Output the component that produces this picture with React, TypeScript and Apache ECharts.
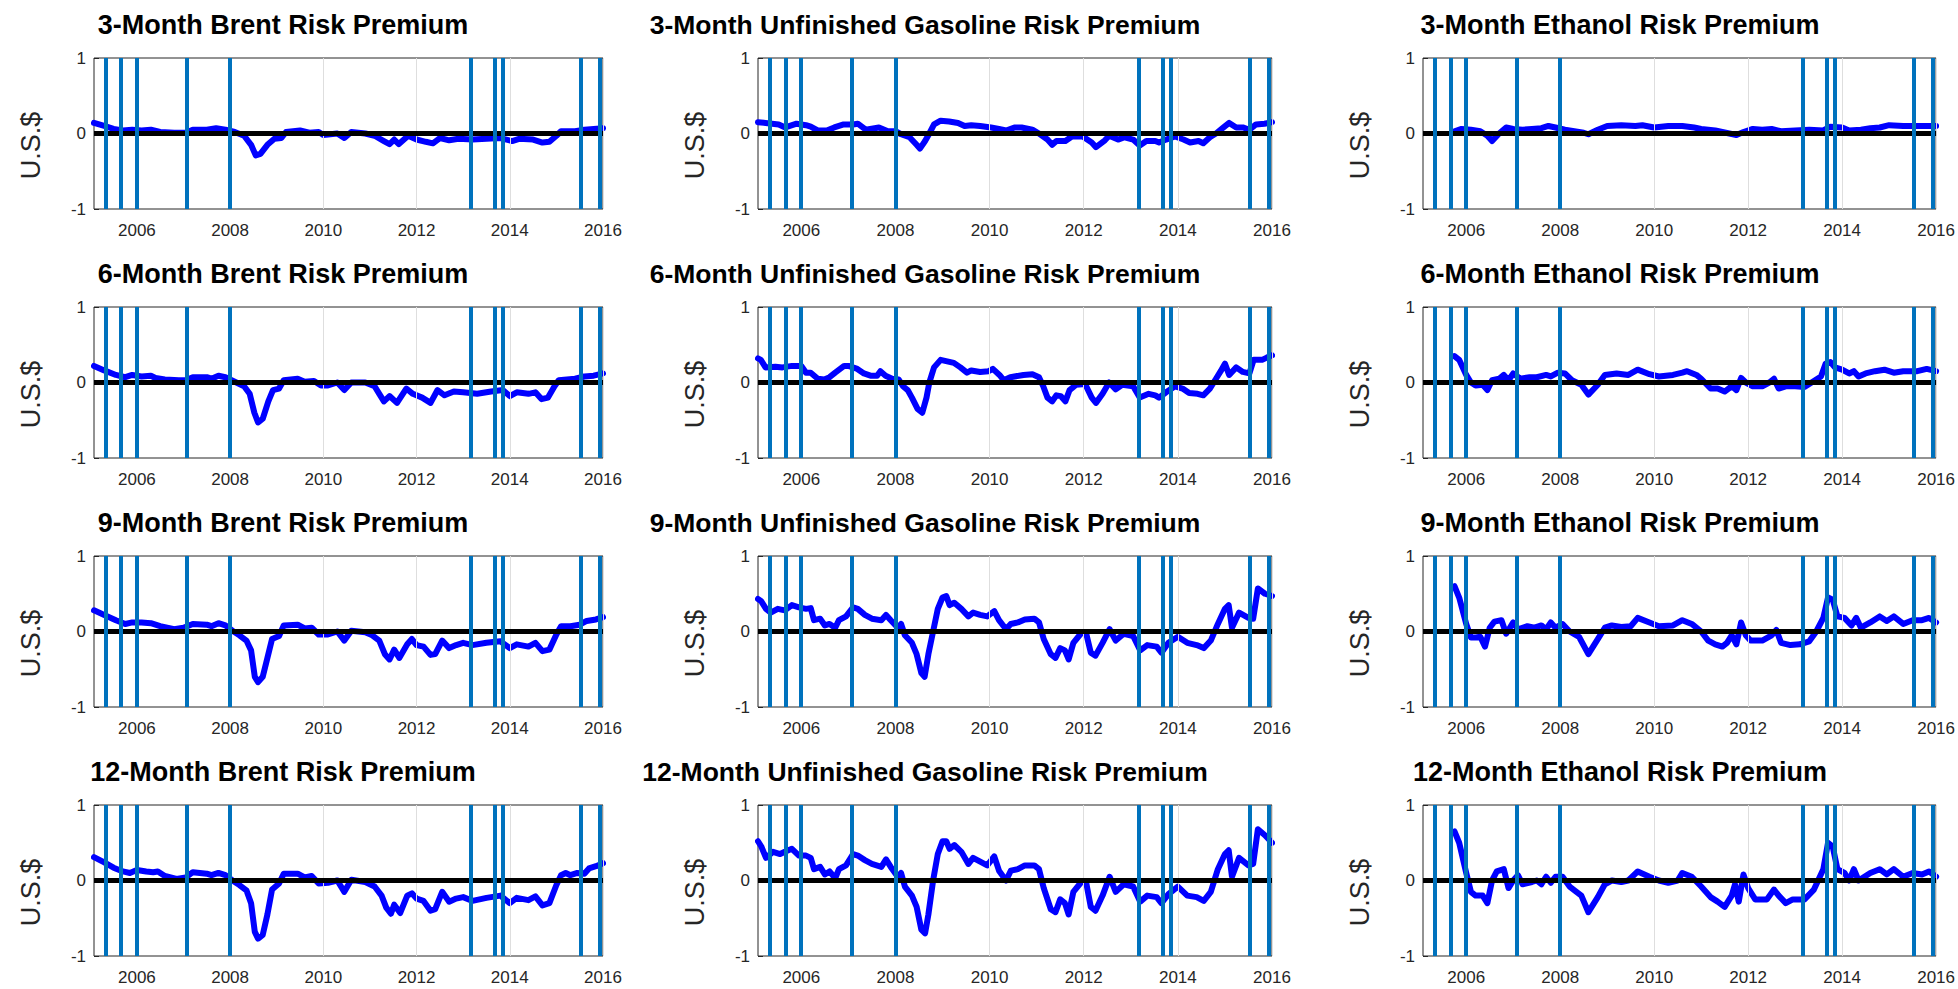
import React, { useEffect, useRef } from "react";
import * as echarts from "echarts";

const X_MIN = 2005.08;
const X_MAX = 2016.0;
const xTickValues = [2006, 2008, 2010, 2012, 2014, 2016];
const eventDates = [2005.33, 2005.66, 2005.99, 2007.08, 2008.0, 2013.17, 2013.67, 2013.85, 2015.52, 2015.93];
const horizons = ["3-Month", "6-Month", "9-Month", "12-Month"];
const commodities = ["Brent", "Unfinished Gasoline", "Ethanol"];
const yLabel = "U.S.$";

const brent3 = [[2005.08,0.14],[2005.3,0.1],[2005.5,0.06],[2005.7,0.04],[2005.9,0.05],[2006.1,0.04],[2006.3,0.05],[2006.5,0.02],[2006.8,0.01],[2007.05,0.01],[2007.2,0.05],[2007.5,0.05],[2007.7,0.07],[2007.9,0.05],[2008.1,0.02],[2008.3,-0.03],[2008.45,-0.15],[2008.55,-0.29],[2008.65,-0.27],[2008.8,-0.15],[2008.95,-0.07],[2009.1,-0.06],[2009.2,0.02],[2009.5,0.04],[2009.7,0.01],[2009.9,0.02],[2010.0,-0.02],[2010.3,0.0],[2010.45,-0.06],[2010.6,0.02],[2010.9,0.0],[2011.1,-0.03],[2011.3,-0.1],[2011.42,-0.14],[2011.52,-0.08],[2011.62,-0.14],[2011.82,-0.03],[2012.0,-0.08],[2012.2,-0.11],[2012.35,-0.13],[2012.5,-0.06],[2012.7,-0.09],[2012.9,-0.07],[2013.2,-0.08],[2013.5,-0.07],[2013.8,-0.06],[2014.05,-0.1],[2014.2,-0.07],[2014.5,-0.08],[2014.7,-0.12],[2014.85,-0.11],[2015.0,-0.03],[2015.1,0.03],[2015.4,0.03],[2015.6,0.05],[2015.8,0.06],[2016.0,0.07]];
const brent6 = [[2005.08,0.22],[2005.3,0.16],[2005.55,0.1],[2005.75,0.07],[2005.9,0.1],[2006.1,0.08],[2006.3,0.09],[2006.4,0.06],[2006.6,0.04],[2006.9,0.03],[2007.05,0.03],[2007.2,0.07],[2007.5,0.07],[2007.6,0.05],[2007.75,0.09],[2007.9,0.07],[2008.1,0.01],[2008.3,-0.05],[2008.42,-0.15],[2008.52,-0.4],[2008.6,-0.53],[2008.7,-0.48],[2008.82,-0.25],[2008.92,-0.1],[2009.05,-0.08],[2009.15,0.03],[2009.45,0.05],[2009.6,0.01],[2009.8,0.02],[2009.95,-0.04],[2010.1,-0.04],[2010.3,0.0],[2010.45,-0.1],[2010.6,0.0],[2010.9,0.0],[2011.1,-0.05],[2011.2,-0.15],[2011.3,-0.25],[2011.42,-0.18],[2011.58,-0.27],[2011.78,-0.08],[2011.92,-0.15],[2012.12,-0.2],[2012.3,-0.27],[2012.45,-0.1],[2012.6,-0.17],[2012.8,-0.12],[2013.0,-0.13],[2013.3,-0.15],[2013.6,-0.12],[2013.85,-0.1],[2014.0,-0.18],[2014.15,-0.13],[2014.4,-0.15],[2014.55,-0.13],[2014.68,-0.22],[2014.82,-0.2],[2014.96,-0.05],[2015.05,0.03],[2015.4,0.05],[2015.6,0.08],[2015.8,0.09],[2016.0,0.12]];
const brent9 = [[2005.08,0.28],[2005.3,0.22],[2005.55,0.15],[2005.75,0.1],[2005.9,0.12],[2006.1,0.12],[2006.3,0.11],[2006.5,0.07],[2006.8,0.03],[2007.0,0.05],[2007.2,0.1],[2007.5,0.09],[2007.6,0.07],[2007.75,0.11],[2007.9,0.08],[2008.05,0.01],[2008.2,-0.05],[2008.35,-0.12],[2008.45,-0.25],[2008.53,-0.6],[2008.6,-0.67],[2008.7,-0.6],[2008.8,-0.35],[2008.9,-0.1],[2009.05,-0.06],[2009.15,0.08],[2009.45,0.09],[2009.6,0.04],[2009.75,0.05],[2009.9,-0.04],[2010.1,-0.04],[2010.3,0.0],[2010.45,-0.12],[2010.6,0.01],[2010.9,-0.01],[2011.05,-0.05],[2011.2,-0.12],[2011.32,-0.3],[2011.42,-0.37],[2011.52,-0.24],[2011.63,-0.35],[2011.8,-0.17],[2011.9,-0.1],[2012.0,-0.18],[2012.15,-0.2],[2012.3,-0.31],[2012.4,-0.3],[2012.55,-0.12],[2012.7,-0.22],[2012.85,-0.18],[2013.0,-0.15],[2013.2,-0.18],[2013.5,-0.15],[2013.8,-0.13],[2014.0,-0.22],[2014.15,-0.17],[2014.4,-0.2],[2014.55,-0.15],[2014.7,-0.26],[2014.85,-0.24],[2015.0,-0.04],[2015.1,0.07],[2015.3,0.07],[2015.5,0.09],[2015.65,0.14],[2015.85,0.16],[2016.0,0.19]];
const brent12 = [[2005.08,0.31],[2005.3,0.24],[2005.5,0.17],[2005.7,0.12],[2005.85,0.1],[2006.0,0.14],[2006.2,0.12],[2006.35,0.11],[2006.45,0.12],[2006.6,0.06],[2006.85,0.02],[2007.05,0.04],[2007.2,0.11],[2007.5,0.09],[2007.6,0.07],[2007.75,0.1],[2007.9,0.07],[2008.05,0.0],[2008.2,-0.06],[2008.35,-0.13],[2008.45,-0.3],[2008.53,-0.68],[2008.6,-0.77],[2008.7,-0.72],[2008.8,-0.45],[2008.9,-0.12],[2009.05,-0.04],[2009.15,0.09],[2009.45,0.09],[2009.6,0.04],[2009.75,0.06],[2009.9,-0.04],[2010.1,-0.03],[2010.3,0.0],[2010.45,-0.15],[2010.6,0.01],[2010.9,-0.02],[2011.1,-0.08],[2011.25,-0.2],[2011.35,-0.36],[2011.45,-0.44],[2011.52,-0.32],[2011.65,-0.43],[2011.8,-0.2],[2011.9,-0.17],[2012.0,-0.24],[2012.15,-0.27],[2012.3,-0.4],[2012.4,-0.38],[2012.55,-0.15],[2012.7,-0.28],[2012.85,-0.24],[2013.0,-0.22],[2013.2,-0.27],[2013.5,-0.23],[2013.8,-0.2],[2014.0,-0.3],[2014.15,-0.23],[2014.4,-0.26],[2014.55,-0.21],[2014.7,-0.33],[2014.85,-0.3],[2015.0,-0.06],[2015.1,0.07],[2015.2,0.1],[2015.3,0.07],[2015.45,0.1],[2015.6,0.09],[2015.7,0.16],[2015.85,0.19],[2016.0,0.23]];

const gas3 = [[2005.08,0.15],[2005.24,0.14],[2005.52,0.12],[2005.66,0.08],[2005.9,0.13],[2006.1,0.11],[2006.2,0.09],[2006.35,0.04],[2006.54,0.04],[2006.7,0.08],[2006.9,0.12],[2007.1,0.12],[2007.2,0.13],[2007.37,0.05],[2007.65,0.08],[2007.84,0.03],[2008.0,0.03],[2008.12,-0.01],[2008.3,-0.05],[2008.45,-0.15],[2008.52,-0.2],[2008.63,-0.1],[2008.72,0.0],[2008.82,0.12],[2008.96,0.17],[2009.14,0.16],[2009.33,0.14],[2009.47,0.1],[2009.61,0.11],[2009.8,0.1],[2010.03,0.08],[2010.2,0.06],[2010.35,0.04],[2010.54,0.08],[2010.68,0.08],[2010.91,0.05],[2011.05,0.0],[2011.23,-0.08],[2011.33,-0.15],[2011.42,-0.1],[2011.61,-0.1],[2011.75,-0.04],[2011.98,-0.04],[2012.17,-0.12],[2012.26,-0.18],[2012.45,-0.09],[2012.54,-0.03],[2012.73,-0.08],[2012.87,-0.05],[2013.05,-0.08],[2013.19,-0.16],[2013.33,-0.1],[2013.52,-0.1],[2013.6,-0.12],[2013.75,-0.08],[2013.94,-0.04],[2014.12,-0.08],[2014.26,-0.12],[2014.44,-0.1],[2014.54,-0.13],[2014.68,-0.05],[2014.81,0.0],[2014.95,0.07],[2015.09,0.14],[2015.24,0.08],[2015.38,0.08],[2015.52,0.05],[2015.66,0.12],[2015.84,0.13],[2016.0,0.15]];
const gas6 = [[2005.08,0.32],[2005.14,0.3],[2005.24,0.2],[2005.45,0.21],[2005.6,0.2],[2005.8,0.22],[2006.0,0.22],[2006.1,0.13],[2006.2,0.13],[2006.35,0.05],[2006.49,0.04],[2006.6,0.07],[2006.72,0.13],[2006.91,0.22],[2007.0,0.22],[2007.19,0.18],[2007.33,0.12],[2007.47,0.09],[2007.61,0.09],[2007.68,0.15],[2007.79,0.09],[2007.93,0.05],[2008.07,0.04],[2008.16,-0.05],[2008.26,-0.1],[2008.35,-0.2],[2008.47,-0.35],[2008.57,-0.4],[2008.66,-0.2],[2008.72,0.0],[2008.82,0.2],[2008.96,0.3],[2009.1,0.28],[2009.24,0.26],[2009.38,0.2],[2009.52,0.13],[2009.61,0.16],[2009.8,0.14],[2009.98,0.15],[2010.07,0.18],[2010.21,0.1],[2010.3,0.03],[2010.44,0.07],[2010.72,0.1],[2010.91,0.11],[2011.05,0.07],[2011.14,-0.05],[2011.23,-0.2],[2011.33,-0.25],[2011.42,-0.17],[2011.51,-0.18],[2011.61,-0.25],[2011.7,-0.1],[2011.84,-0.03],[2012.03,-0.02],[2012.17,-0.2],[2012.26,-0.27],[2012.4,-0.15],[2012.54,0.0],[2012.68,-0.09],[2012.82,-0.03],[2013.05,-0.05],[2013.19,-0.2],[2013.38,-0.15],[2013.52,-0.17],[2013.6,-0.2],[2013.75,-0.13],[2013.94,-0.05],[2014.1,-0.08],[2014.24,-0.14],[2014.42,-0.15],[2014.54,-0.17],[2014.68,-0.08],[2014.81,0.05],[2014.91,0.15],[2015.0,0.25],[2015.09,0.1],[2015.24,0.2],[2015.38,0.14],[2015.52,0.12],[2015.61,0.3],[2015.79,0.3],[2015.89,0.33],[2016.0,0.36]];
const gas9 = [[2005.08,0.43],[2005.15,0.4],[2005.25,0.3],[2005.35,0.25],[2005.5,0.3],[2005.65,0.28],[2005.8,0.35],[2005.95,0.32],[2006.1,0.3],[2006.2,0.31],[2006.27,0.15],[2006.4,0.17],[2006.5,0.08],[2006.6,0.1],[2006.72,0.05],[2006.8,0.15],[2006.95,0.2],[2007.1,0.32],[2007.2,0.3],[2007.35,0.22],[2007.5,0.17],[2007.7,0.15],[2007.8,0.22],[2007.9,0.15],[2008.05,0.05],[2008.12,0.1],[2008.2,-0.05],[2008.35,-0.15],[2008.45,-0.3],[2008.55,-0.55],[2008.62,-0.6],[2008.7,-0.3],[2008.8,0.0],[2008.9,0.3],[2009.0,0.45],[2009.08,0.47],[2009.15,0.35],[2009.25,0.38],[2009.4,0.3],[2009.55,0.2],[2009.65,0.25],[2009.8,0.22],[2009.95,0.2],[2010.1,0.27],[2010.2,0.15],[2010.35,0.03],[2010.45,0.1],[2010.6,0.12],[2010.75,0.16],[2010.95,0.17],[2011.05,0.12],[2011.15,-0.1],[2011.3,-0.3],[2011.4,-0.35],[2011.5,-0.22],[2011.6,-0.25],[2011.68,-0.37],[2011.78,-0.15],[2011.95,-0.02],[2012.05,-0.02],[2012.15,-0.28],[2012.25,-0.32],[2012.4,-0.15],[2012.55,0.03],[2012.68,-0.12],[2012.85,-0.03],[2013.05,-0.06],[2013.2,-0.25],[2013.35,-0.18],[2013.55,-0.2],[2013.65,-0.28],[2013.8,-0.15],[2014.0,-0.07],[2014.2,-0.15],[2014.4,-0.18],[2014.55,-0.22],[2014.7,-0.12],[2014.85,0.1],[2015.0,0.3],[2015.08,0.35],[2015.15,0.05],[2015.3,0.25],[2015.5,0.18],[2015.6,0.17],[2015.7,0.57],[2015.85,0.5],[2016.0,0.47]];
const gas12 = [[2005.08,0.52],[2005.15,0.45],[2005.25,0.3],[2005.4,0.38],[2005.55,0.35],[2005.65,0.38],[2005.8,0.42],[2005.95,0.33],[2006.1,0.33],[2006.2,0.3],[2006.27,0.15],[2006.4,0.18],[2006.5,0.08],[2006.6,0.12],[2006.72,0.03],[2006.8,0.15],[2006.95,0.2],[2007.1,0.35],[2007.2,0.33],[2007.35,0.27],[2007.5,0.22],[2007.7,0.18],[2007.8,0.28],[2007.9,0.18],[2008.05,0.05],[2008.12,0.1],[2008.2,-0.08],[2008.35,-0.2],[2008.45,-0.35],[2008.55,-0.65],[2008.63,-0.7],[2008.7,-0.45],[2008.8,0.0],[2008.9,0.35],[2009.0,0.52],[2009.08,0.52],[2009.15,0.42],[2009.25,0.47],[2009.4,0.38],[2009.55,0.22],[2009.65,0.3],[2009.8,0.25],[2009.95,0.2],[2010.1,0.32],[2010.2,0.13],[2010.35,0.0],[2010.45,0.13],[2010.6,0.15],[2010.75,0.2],[2010.95,0.2],[2011.05,0.15],[2011.15,-0.1],[2011.3,-0.38],[2011.4,-0.42],[2011.5,-0.25],[2011.6,-0.3],[2011.68,-0.45],[2011.78,-0.15],[2011.95,-0.02],[2012.05,-0.02],[2012.15,-0.35],[2012.25,-0.4],[2012.4,-0.2],[2012.55,0.05],[2012.68,-0.15],[2012.85,-0.05],[2013.05,-0.08],[2013.2,-0.28],[2013.35,-0.2],[2013.55,-0.22],[2013.65,-0.3],[2013.8,-0.18],[2014.0,-0.08],[2014.2,-0.2],[2014.4,-0.22],[2014.55,-0.27],[2014.7,-0.15],[2014.85,0.15],[2015.0,0.35],[2015.08,0.4],[2015.15,0.05],[2015.3,0.3],[2015.5,0.2],[2015.6,0.22],[2015.7,0.68],[2015.85,0.6],[2016.0,0.5]];

const eth3 = [[2005.75,0.03],[2005.9,0.06],[2006.1,0.05],[2006.3,0.03],[2006.45,-0.03],[2006.55,-0.1],[2006.7,0.0],[2006.85,0.08],[2007.0,0.06],[2007.2,0.05],[2007.4,0.06],[2007.6,0.07],[2007.75,0.1],[2007.9,0.08],[2008.1,0.05],[2008.3,0.03],[2008.5,0.01],[2008.6,-0.01],[2008.8,0.05],[2009.0,0.1],[2009.3,0.11],[2009.6,0.1],[2009.75,0.11],[2010.0,0.08],[2010.3,0.1],[2010.6,0.1],[2010.85,0.08],[2011.0,0.06],[2011.3,0.04],[2011.6,0.0],[2011.75,-0.02],[2011.9,0.02],[2012.1,0.06],[2012.3,0.05],[2012.5,0.06],[2012.7,0.03],[2013.0,0.04],[2013.3,0.05],[2013.6,0.04],[2013.75,0.09],[2014.0,0.08],[2014.15,0.04],[2014.4,0.05],[2014.6,0.07],[2014.8,0.08],[2015.0,0.11],[2015.3,0.1],[2015.6,0.1],[2015.8,0.1],[2016.0,0.1]];
const eth6 = [[2005.75,0.35],[2005.85,0.3],[2006.0,0.1],[2006.1,0.0],[2006.2,-0.04],[2006.35,-0.03],[2006.45,-0.1],[2006.55,0.03],[2006.7,0.05],[2006.8,0.1],[2006.9,0.03],[2007.0,0.12],[2007.15,0.05],[2007.35,0.07],[2007.5,0.07],[2007.7,0.1],[2007.8,0.08],[2007.95,0.13],[2008.1,0.12],[2008.25,0.03],[2008.45,-0.03],[2008.6,-0.16],[2008.8,-0.03],[2008.95,0.1],[2009.2,0.12],[2009.45,0.1],[2009.65,0.17],[2009.9,0.11],[2010.1,0.08],[2010.4,0.1],[2010.6,0.13],[2010.7,0.15],[2010.9,0.1],[2011.0,0.05],[2011.2,-0.08],[2011.35,-0.08],[2011.5,-0.12],[2011.65,-0.05],[2011.75,-0.1],[2011.85,0.06],[2011.95,0.0],[2012.1,-0.05],[2012.3,-0.05],[2012.45,0.0],[2012.55,0.05],[2012.65,-0.08],[2012.8,-0.05],[2013.0,-0.05],[2013.2,-0.06],[2013.35,0.0],[2013.55,0.08],[2013.65,0.25],[2013.75,0.27],[2013.85,0.2],[2014.0,0.17],[2014.15,0.12],[2014.25,0.15],[2014.35,0.08],[2014.5,0.12],[2014.7,0.15],[2014.9,0.17],[2015.1,0.13],[2015.3,0.15],[2015.6,0.15],[2015.8,0.18],[2016.0,0.15]];
const eth9 = [[2005.75,0.6],[2005.85,0.45],[2006.0,0.1],[2006.1,-0.08],[2006.2,-0.08],[2006.3,-0.07],[2006.4,-0.2],[2006.5,0.05],[2006.6,0.13],[2006.75,0.15],[2006.85,-0.03],[2007.0,0.12],[2007.1,0.03],[2007.3,0.07],[2007.45,0.05],[2007.6,0.08],[2007.7,0.03],[2007.8,0.12],[2007.9,0.05],[2008.05,0.1],[2008.2,0.0],[2008.4,-0.07],[2008.6,-0.3],[2008.8,-0.1],[2008.95,0.05],[2009.1,0.08],[2009.3,0.06],[2009.5,0.07],[2009.65,0.18],[2009.9,0.12],[2010.1,0.07],[2010.4,0.08],[2010.6,0.15],[2010.8,0.1],[2011.0,0.0],[2011.15,-0.12],[2011.3,-0.17],[2011.45,-0.2],[2011.55,-0.15],[2011.65,-0.05],[2011.75,-0.17],[2011.85,0.12],[2011.95,-0.05],[2012.05,-0.12],[2012.3,-0.12],[2012.5,-0.05],[2012.6,0.02],[2012.7,-0.15],[2012.9,-0.18],[2013.1,-0.17],[2013.3,-0.13],[2013.45,0.0],[2013.6,0.18],[2013.7,0.45],[2013.8,0.42],[2013.9,0.2],[2014.05,0.18],[2014.2,0.08],[2014.3,0.18],[2014.4,0.05],[2014.6,0.12],[2014.8,0.2],[2014.95,0.14],[2015.1,0.2],[2015.3,0.1],[2015.5,0.15],[2015.7,0.15],[2015.85,0.18],[2016.0,0.12]];
const eth12 = [[2005.75,0.65],[2005.85,0.5],[2006.0,0.1],[2006.1,-0.15],[2006.2,-0.2],[2006.35,-0.2],[2006.45,-0.3],[2006.55,0.0],[2006.65,0.12],[2006.8,0.15],[2006.9,-0.1],[2007.0,0.0],[2007.1,0.07],[2007.2,-0.05],[2007.4,-0.02],[2007.5,0.0],[2007.6,-0.05],[2007.7,0.05],[2007.8,-0.03],[2007.9,0.05],[2008.05,0.05],[2008.2,-0.08],[2008.45,-0.2],[2008.6,-0.42],[2008.8,-0.22],[2008.95,-0.05],[2009.1,0.0],[2009.3,-0.02],[2009.45,0.0],[2009.65,0.12],[2009.9,0.05],[2010.1,0.0],[2010.3,-0.03],[2010.5,0.0],[2010.6,0.1],[2010.8,0.05],[2011.0,-0.08],[2011.2,-0.22],[2011.35,-0.28],[2011.5,-0.35],[2011.65,-0.2],[2011.72,-0.05],[2011.8,-0.28],[2011.9,0.08],[2012.0,-0.1],[2012.15,-0.25],[2012.4,-0.25],[2012.55,-0.12],[2012.65,-0.2],[2012.8,-0.3],[2012.95,-0.25],[2013.2,-0.25],[2013.4,-0.12],[2013.6,0.15],[2013.7,0.5],[2013.8,0.45],[2013.9,0.15],[2014.05,0.1],[2014.15,0.0],[2014.25,0.15],[2014.35,0.0],[2014.6,0.1],[2014.8,0.15],[2014.95,0.08],[2015.1,0.15],[2015.3,0.05],[2015.5,0.1],[2015.7,0.08],[2015.85,0.12],[2016.0,0.05]];

const panelData = [
  [brent3, gas3, eth3],
  [brent6, gas6, eth6],
  [brent9, gas9, eth9],
  [brent12, gas12, eth12],
];

const FONT = '"Liberation Sans", Arial, Helvetica, sans-serif';
const colLeft = [94, 758, 1423];
const colWidth = [509, 514, 514];
const titleCx = [283, 925, 1620];
const rowTop = [58, 307, 556, 805];
const plotH = 151;

function buildOption() {
  const grid: any[] = [];
  const xAxis: any[] = [];
  const yAxis: any[] = [];
  const series: any[] = [];
  const graphic: any[] = [];
  for (let r = 0; r < 4; r++) {
    for (let c = 0; c < 3; c++) {
      const idx = r * 3 + c;
      grid.push({
        left: colLeft[c], top: rowTop[r], width: colWidth[c], height: plotH,
        show: true, borderColor: "#262626", borderWidth: 1, backgroundColor: "transparent",
      });
      xAxis.push({
        type: "value", gridIndex: idx, min: X_MIN, max: X_MAX,
        axisLine: { show: false },
        axisTick: { show: true, inside: true, length: 5, customValues: xTickValues, lineStyle: { color: "#262626" } },
        axisLabel: {
          customValues: xTickValues, fontSize: 17, color: "#262626", margin: 13, fontFamily: FONT,
          formatter: (v: number) => String(Math.round(v)),
        },
        splitLine: { show: false },
      });
      yAxis.push({
        type: "value", gridIndex: idx, min: -1, max: 1, interval: 1,
        name: yLabel, nameLocation: "middle", nameGap: 50, nameRotate: 90,
        nameTextStyle: { fontSize: 27, color: "#262626", fontFamily: FONT, padding: [0, 24, 0, 0] },
        axisLine: { show: false },
        axisTick: { show: true, inside: true, length: 5, lineStyle: { color: "#262626" } },
        axisLabel: { fontSize: 17, color: "#262626", margin: 8, fontFamily: FONT, padding: [0, 0, 6, 0] },
        splitLine: { show: false },
      });
      series.push({
        type: "line", xAxisIndex: idx, yAxisIndex: idx, data: [], z: 1, silent: true,
        markLine: {
          silent: true, symbol: ["none", "none"], label: { show: false }, animation: false,
          lineStyle: { color: "#dedede", width: 1, type: "solid" },
          emphasis: { disabled: true },
          data: xTickValues.map((v) => ({ xAxis: v })),
        },
      });
      series.push({
        type: "line", xAxisIndex: idx, yAxisIndex: idx, data: panelData[r][c], z: 2,
        showSymbol: false, symbol: "none", silent: true,
        lineStyle: { color: "#0000ff", width: 6, cap: "round", join: "round" },
      });
      series.push({
        type: "line", xAxisIndex: idx, yAxisIndex: idx, data: [], z: 3, silent: true,
        markLine: {
          silent: true, symbol: ["none", "none"], label: { show: false }, animation: false,
          lineStyle: { color: "#000000", width: 5, type: "solid" },
          emphasis: { disabled: true },
          data: [{ yAxis: 0 }],
        },
      });
      series.push({
        type: "line", xAxisIndex: idx, yAxisIndex: idx, data: [], z: 4, silent: true,
        markLine: {
          silent: true, symbol: ["none", "none"], label: { show: false }, animation: false,
          lineStyle: { color: "#0072BD", width: 4, type: "solid" },
          emphasis: { disabled: true },
          data: eventDates.map((v) => ({ xAxis: v })),
        },
      });
      graphic.push({
        type: "text", x: titleCx[c], y: rowTop[r] - 33,
        style: {
          text: `${horizons[r]} ${commodities[c]} Risk Premium`,
          font: `bold ${c === 1 ? 26.5 : 27}px ${FONT}`, fill: "#000",
          textAlign: "center", textVerticalAlign: "middle",
          align: "center", verticalAlign: "middle",
        },
      });
    }
  }
  return { animation: false, backgroundColor: "#ffffff", grid, xAxis, yAxis, series, graphic };
}

export default function App() {
  const ref = useRef<HTMLDivElement>(null);
  useEffect(() => {
    if (!ref.current) return;
    const chart = echarts.init(ref.current, undefined, { renderer: "svg" });
    chart.setOption(buildOption() as any);
    return () => chart.dispose();
  }, []);
  return (
    <div
      ref={ref}
      style={{ position: "fixed", left: 0, top: 0, width: "1958px", height: "989px", background: "#fff" }}
    />
  );
}
